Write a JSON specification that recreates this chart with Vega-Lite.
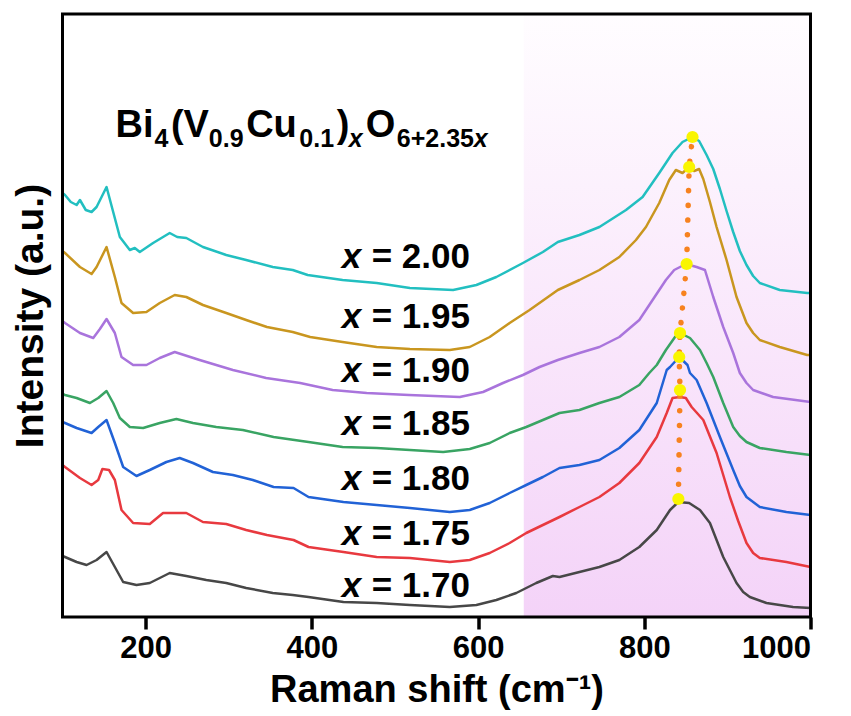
{
  "$schema": "https://vega.github.io/schema/vega-lite/v6.json",
  "width": 748,
  "height": 603,
  "autosize": {"type": "none"},
  "padding": {"left": 62.5, "top": 14, "right": 40.5, "bottom": 99},
  "background": "white",
  "config": {
    "view": {"stroke": null},
    "font": "Liberation Sans",
    "text": {"font": "Liberation Sans", "fontWeight": "bold", "color": "black"}
  },
  "datasets": {
    "spectra": [
      {"sample":"2.00","shift":100,"intensity":424},{"sample":"2.00","shift":103,"intensity":422},{"sample":"2.00","shift":110,"intensity":415},{"sample":"2.00","shift":117,"intensity":412},{"sample":"2.00","shift":121,"intensity":417},{"sample":"2.00","shift":128,"intensity":407},{"sample":"2.00","shift":135,"intensity":405},{"sample":"2.00","shift":141,"intensity":410},{"sample":"2.00","shift":153,"intensity":430},{"sample":"2.00","shift":169,"intensity":380},{"sample":"2.00","shift":181,"intensity":367},{"sample":"2.00","shift":187,"intensity":369},{"sample":"2.00","shift":193,"intensity":365},{"sample":"2.00","shift":209,"intensity":374},{"sample":"2.00","shift":229,"intensity":384},{"sample":"2.00","shift":238,"intensity":380},{"sample":"2.00","shift":249,"intensity":379},{"sample":"2.00","shift":269,"intensity":370},{"sample":"2.00","shift":297,"intensity":362},{"sample":"2.00","shift":321,"intensity":357},{"sample":"2.00","shift":353,"intensity":350},{"sample":"2.00","shift":377,"intensity":347},{"sample":"2.00","shift":395,"intensity":342},{"sample":"2.00","shift":437,"intensity":337},{"sample":"2.00","shift":478,"intensity":334},{"sample":"2.00","shift":518,"intensity":329},{"sample":"2.00","shift":570,"intensity":327},{"sample":"2.00","shift":598,"intensity":332},{"sample":"2.00","shift":622,"intensity":340},{"sample":"2.00","shift":654,"intensity":354},{"sample":"2.00","shift":678,"intensity":365},{"sample":"2.00","shift":696,"intensity":375},{"sample":"2.00","shift":722,"intensity":382},{"sample":"2.00","shift":746,"intensity":390},{"sample":"2.00","shift":778,"intensity":407},{"sample":"2.00","shift":798,"intensity":420},{"sample":"2.00","shift":818,"intensity":444},{"sample":"2.00","shift":834,"intensity":464},{"sample":"2.00","shift":846,"intensity":475},{"sample":"2.00","shift":858,"intensity":480},{"sample":"2.00","shift":866,"intensity":476},{"sample":"2.00","shift":875,"intensity":462},{"sample":"2.00","shift":883,"intensity":448},{"sample":"2.00","shift":891,"intensity":428},{"sample":"2.00","shift":899,"intensity":406},{"sample":"2.00","shift":907,"intensity":385},{"sample":"2.00","shift":915,"intensity":366},{"sample":"2.00","shift":923,"intensity":352},{"sample":"2.00","shift":931,"intensity":341},{"sample":"2.00","shift":939,"intensity":334},{"sample":"2.00","shift":963,"intensity":327},{"sample":"2.00","shift":996,"intensity":324},{"sample":"2.00","shift":1000,"intensity":324},
      {"sample":"1.95","shift":100,"intensity":366},{"sample":"1.95","shift":103,"intensity":364},{"sample":"1.95","shift":121,"intensity":350},{"sample":"1.95","shift":135,"intensity":343},{"sample":"1.95","shift":141,"intensity":350},{"sample":"1.95","shift":153,"intensity":370},{"sample":"1.95","shift":163,"intensity":340},{"sample":"1.95","shift":171,"intensity":314},{"sample":"1.95","shift":185,"intensity":304},{"sample":"1.95","shift":201,"intensity":305},{"sample":"1.95","shift":217,"intensity":314},{"sample":"1.95","shift":235,"intensity":322},{"sample":"1.95","shift":249,"intensity":320},{"sample":"1.95","shift":269,"intensity":312},{"sample":"1.95","shift":297,"intensity":304},{"sample":"1.95","shift":321,"intensity":297},{"sample":"1.95","shift":346,"intensity":290},{"sample":"1.95","shift":377,"intensity":285},{"sample":"1.95","shift":398,"intensity":280},{"sample":"1.95","shift":437,"intensity":275},{"sample":"1.95","shift":478,"intensity":270},{"sample":"1.95","shift":518,"intensity":268},{"sample":"1.95","shift":566,"intensity":267},{"sample":"1.95","shift":590,"intensity":270},{"sample":"1.95","shift":614,"intensity":280},{"sample":"1.95","shift":638,"intensity":294},{"sample":"1.95","shift":662,"intensity":307},{"sample":"1.95","shift":696,"intensity":327},{"sample":"1.95","shift":722,"intensity":337},{"sample":"1.95","shift":746,"intensity":347},{"sample":"1.95","shift":770,"intensity":360},{"sample":"1.95","shift":790,"intensity":377},{"sample":"1.95","shift":802,"intensity":390},{"sample":"1.95","shift":818,"intensity":414},{"sample":"1.95","shift":830,"intensity":437},{"sample":"1.95","shift":838,"intensity":447},{"sample":"1.95","shift":846,"intensity":444},{"sample":"1.95","shift":854,"intensity":450},{"sample":"1.95","shift":860,"intensity":446},{"sample":"1.95","shift":866,"intensity":448},{"sample":"1.95","shift":871,"intensity":438},{"sample":"1.95","shift":879,"intensity":415},{"sample":"1.95","shift":887,"intensity":390},{"sample":"1.95","shift":899,"intensity":357},{"sample":"1.95","shift":911,"intensity":320},{"sample":"1.95","shift":923,"intensity":294},{"sample":"1.95","shift":931,"intensity":284},{"sample":"1.95","shift":939,"intensity":277},{"sample":"1.95","shift":963,"intensity":270},{"sample":"1.95","shift":996,"intensity":262},{"sample":"1.95","shift":1000,"intensity":262},
      {"sample":"1.90","shift":100,"intensity":296},{"sample":"1.90","shift":103,"intensity":294},{"sample":"1.90","shift":121,"intensity":284},{"sample":"1.90","shift":137,"intensity":279},{"sample":"1.90","shift":145,"intensity":288},{"sample":"1.90","shift":153,"intensity":298},{"sample":"1.90","shift":163,"intensity":284},{"sample":"1.90","shift":171,"intensity":260},{"sample":"1.90","shift":185,"intensity":252},{"sample":"1.90","shift":201,"intensity":252},{"sample":"1.90","shift":217,"intensity":259},{"sample":"1.90","shift":235,"intensity":265},{"sample":"1.90","shift":265,"intensity":257},{"sample":"1.90","shift":305,"intensity":247},{"sample":"1.90","shift":345,"intensity":239},{"sample":"1.90","shift":386,"intensity":234},{"sample":"1.90","shift":425,"intensity":227},{"sample":"1.90","shift":466,"intensity":224},{"sample":"1.90","shift":517,"intensity":222},{"sample":"1.90","shift":578,"intensity":220},{"sample":"1.90","shift":606,"intensity":225},{"sample":"1.90","shift":630,"intensity":234},{"sample":"1.90","shift":654,"intensity":242},{"sample":"1.90","shift":674,"intensity":250},{"sample":"1.90","shift":696,"intensity":257},{"sample":"1.90","shift":722,"intensity":264},{"sample":"1.90","shift":746,"intensity":270},{"sample":"1.90","shift":770,"intensity":280},{"sample":"1.90","shift":794,"intensity":297},{"sample":"1.90","shift":810,"intensity":317},{"sample":"1.90","shift":826,"intensity":337},{"sample":"1.90","shift":836,"intensity":347},{"sample":"1.90","shift":850,"intensity":353},{"sample":"1.90","shift":863,"intensity":350},{"sample":"1.90","shift":873,"intensity":347},{"sample":"1.90","shift":883,"intensity":320},{"sample":"1.90","shift":895,"intensity":290},{"sample":"1.90","shift":907,"intensity":264},{"sample":"1.90","shift":915,"intensity":244},{"sample":"1.90","shift":923,"intensity":234},{"sample":"1.90","shift":931,"intensity":227},{"sample":"1.90","shift":955,"intensity":220},{"sample":"1.90","shift":1000,"intensity":215},
      {"sample":"1.85","shift":100,"intensity":223},{"sample":"1.85","shift":103,"intensity":222},{"sample":"1.85","shift":117,"intensity":219},{"sample":"1.85","shift":133,"intensity":214},{"sample":"1.85","shift":143,"intensity":219},{"sample":"1.85","shift":153,"intensity":226},{"sample":"1.85","shift":161,"intensity":214},{"sample":"1.85","shift":169,"intensity":199},{"sample":"1.85","shift":181,"intensity":190},{"sample":"1.85","shift":197,"intensity":189},{"sample":"1.85","shift":217,"intensity":194},{"sample":"1.85","shift":237,"intensity":198},{"sample":"1.85","shift":257,"intensity":194},{"sample":"1.85","shift":285,"intensity":190},{"sample":"1.85","shift":317,"intensity":187},{"sample":"1.85","shift":354,"intensity":180},{"sample":"1.85","shift":396,"intensity":175},{"sample":"1.85","shift":437,"intensity":170},{"sample":"1.85","shift":478,"intensity":169},{"sample":"1.85","shift":518,"intensity":167},{"sample":"1.85","shift":558,"intensity":165},{"sample":"1.85","shift":590,"intensity":168},{"sample":"1.85","shift":614,"intensity":174},{"sample":"1.85","shift":638,"intensity":184},{"sample":"1.85","shift":658,"intensity":190},{"sample":"1.85","shift":678,"intensity":197},{"sample":"1.85","shift":698,"intensity":204},{"sample":"1.85","shift":722,"intensity":207},{"sample":"1.85","shift":746,"intensity":214},{"sample":"1.85","shift":770,"intensity":220},{"sample":"1.85","shift":794,"intensity":232},{"sample":"1.85","shift":806,"intensity":244},{"sample":"1.85","shift":815,"intensity":252},{"sample":"1.85","shift":826,"intensity":267},{"sample":"1.85","shift":837,"intensity":280},{"sample":"1.85","shift":843,"intensity":284},{"sample":"1.85","shift":855,"intensity":279},{"sample":"1.85","shift":867,"intensity":267},{"sample":"1.85","shift":875,"intensity":254},{"sample":"1.85","shift":883,"intensity":240},{"sample":"1.85","shift":895,"intensity":214},{"sample":"1.85","shift":907,"intensity":190},{"sample":"1.85","shift":915,"intensity":181},{"sample":"1.85","shift":923,"intensity":175},{"sample":"1.85","shift":939,"intensity":169},{"sample":"1.85","shift":971,"intensity":165},{"sample":"1.85","shift":1000,"intensity":162},
      {"sample":"1.80","shift":100,"intensity":195},{"sample":"1.80","shift":103,"intensity":194},{"sample":"1.80","shift":117,"intensity":189},{"sample":"1.80","shift":135,"intensity":184},{"sample":"1.80","shift":143,"intensity":190},{"sample":"1.80","shift":153,"intensity":197},{"sample":"1.80","shift":163,"intensity":174},{"sample":"1.80","shift":173,"intensity":150},{"sample":"1.80","shift":189,"intensity":141},{"sample":"1.80","shift":205,"intensity":147},{"sample":"1.80","shift":225,"intensity":155},{"sample":"1.80","shift":241,"intensity":159},{"sample":"1.80","shift":257,"intensity":154},{"sample":"1.80","shift":281,"intensity":145},{"sample":"1.80","shift":305,"intensity":142},{"sample":"1.80","shift":329,"intensity":137},{"sample":"1.80","shift":354,"intensity":130},{"sample":"1.80","shift":378,"intensity":129},{"sample":"1.80","shift":396,"intensity":120},{"sample":"1.80","shift":438,"intensity":115},{"sample":"1.80","shift":478,"intensity":112},{"sample":"1.80","shift":518,"intensity":109},{"sample":"1.80","shift":566,"intensity":105},{"sample":"1.80","shift":590,"intensity":107},{"sample":"1.80","shift":614,"intensity":114},{"sample":"1.80","shift":638,"intensity":124},{"sample":"1.80","shift":658,"intensity":132},{"sample":"1.80","shift":678,"intensity":140},{"sample":"1.80","shift":698,"intensity":149},{"sample":"1.80","shift":722,"intensity":152},{"sample":"1.80","shift":746,"intensity":157},{"sample":"1.80","shift":770,"intensity":169},{"sample":"1.80","shift":794,"intensity":187},{"sample":"1.80","shift":815,"intensity":214},{"sample":"1.80","shift":827,"intensity":247},{"sample":"1.80","shift":831,"intensity":250},{"sample":"1.80","shift":842,"intensity":260},{"sample":"1.80","shift":852,"intensity":252},{"sample":"1.80","shift":855,"intensity":244},{"sample":"1.80","shift":863,"intensity":237},{"sample":"1.80","shift":875,"intensity":214},{"sample":"1.80","shift":891,"intensity":180},{"sample":"1.80","shift":907,"intensity":147},{"sample":"1.80","shift":915,"intensity":131},{"sample":"1.80","shift":923,"intensity":120},{"sample":"1.80","shift":939,"intensity":110},{"sample":"1.80","shift":971,"intensity":105},{"sample":"1.80","shift":1000,"intensity":102},
      {"sample":"1.75","shift":100,"intensity":152},{"sample":"1.75","shift":103,"intensity":150},{"sample":"1.75","shift":121,"intensity":139},{"sample":"1.75","shift":135,"intensity":132},{"sample":"1.75","shift":143,"intensity":137},{"sample":"1.75","shift":148,"intensity":148},{"sample":"1.75","shift":156,"intensity":147},{"sample":"1.75","shift":163,"intensity":137},{"sample":"1.75","shift":171,"intensity":107},{"sample":"1.75","shift":185,"intensity":94},{"sample":"1.75","shift":205,"intensity":93},{"sample":"1.75","shift":221,"intensity":104},{"sample":"1.75","shift":237,"intensity":104},{"sample":"1.75","shift":249,"intensity":104},{"sample":"1.75","shift":269,"intensity":95},{"sample":"1.75","shift":297,"intensity":93},{"sample":"1.75","shift":321,"intensity":87},{"sample":"1.75","shift":346,"intensity":82},{"sample":"1.75","shift":378,"intensity":77},{"sample":"1.75","shift":396,"intensity":70},{"sample":"1.75","shift":438,"intensity":65},{"sample":"1.75","shift":478,"intensity":60},{"sample":"1.75","shift":518,"intensity":59},{"sample":"1.75","shift":566,"intensity":55},{"sample":"1.75","shift":590,"intensity":57},{"sample":"1.75","shift":614,"intensity":64},{"sample":"1.75","shift":638,"intensity":74},{"sample":"1.75","shift":658,"intensity":84},{"sample":"1.75","shift":678,"intensity":92},{"sample":"1.75","shift":698,"intensity":100},{"sample":"1.75","shift":722,"intensity":110},{"sample":"1.75","shift":746,"intensity":120},{"sample":"1.75","shift":770,"intensity":134},{"sample":"1.75","shift":794,"intensity":154},{"sample":"1.75","shift":815,"intensity":180},{"sample":"1.75","shift":827,"intensity":204},{"sample":"1.75","shift":834,"intensity":219},{"sample":"1.75","shift":843,"intensity":220},{"sample":"1.75","shift":850,"intensity":219},{"sample":"1.75","shift":857,"intensity":210},{"sample":"1.75","shift":871,"intensity":197},{"sample":"1.75","shift":887,"intensity":164},{"sample":"1.75","shift":903,"intensity":120},{"sample":"1.75","shift":913,"intensity":96},{"sample":"1.75","shift":923,"intensity":74},{"sample":"1.75","shift":931,"intensity":64},{"sample":"1.75","shift":939,"intensity":59},{"sample":"1.75","shift":971,"intensity":55},{"sample":"1.75","shift":1000,"intensity":50},
      {"sample":"1.70","shift":100,"intensity":61},{"sample":"1.70","shift":103,"intensity":60},{"sample":"1.70","shift":117,"intensity":55},{"sample":"1.70","shift":129,"intensity":52},{"sample":"1.70","shift":141,"intensity":57},{"sample":"1.70","shift":153,"intensity":65},{"sample":"1.70","shift":163,"intensity":50},{"sample":"1.70","shift":173,"intensity":35},{"sample":"1.70","shift":189,"intensity":32},{"sample":"1.70","shift":205,"intensity":34},{"sample":"1.70","shift":217,"intensity":39},{"sample":"1.70","shift":229,"intensity":44},{"sample":"1.70","shift":249,"intensity":41},{"sample":"1.70","shift":273,"intensity":37},{"sample":"1.70","shift":297,"intensity":34},{"sample":"1.70","shift":321,"intensity":29},{"sample":"1.70","shift":353,"intensity":24},{"sample":"1.70","shift":377,"intensity":22},{"sample":"1.70","shift":396,"intensity":20},{"sample":"1.70","shift":438,"intensity":15},{"sample":"1.70","shift":478,"intensity":14},{"sample":"1.70","shift":518,"intensity":12},{"sample":"1.70","shift":566,"intensity":10},{"sample":"1.70","shift":598,"intensity":12},{"sample":"1.70","shift":622,"intensity":17},{"sample":"1.70","shift":646,"intensity":24},{"sample":"1.70","shift":670,"intensity":34},{"sample":"1.70","shift":690,"intensity":41},{"sample":"1.70","shift":698,"intensity":40},{"sample":"1.70","shift":722,"intensity":45},{"sample":"1.70","shift":746,"intensity":50},{"sample":"1.70","shift":770,"intensity":57},{"sample":"1.70","shift":794,"intensity":70},{"sample":"1.70","shift":815,"intensity":87},{"sample":"1.70","shift":831,"intensity":107},{"sample":"1.70","shift":841,"intensity":115},{"sample":"1.70","shift":854,"intensity":114},{"sample":"1.70","shift":867,"intensity":107},{"sample":"1.70","shift":879,"intensity":94},{"sample":"1.70","shift":895,"intensity":60},{"sample":"1.70","shift":911,"intensity":34},{"sample":"1.70","shift":919,"intensity":25},{"sample":"1.70","shift":927,"intensity":20},{"sample":"1.70","shift":947,"intensity":14},{"sample":"1.70","shift":979,"intensity":10},{"sample":"1.70","shift":1000,"intensity":9}
    ],
    "peaks": [
      {"sample":"2.00","shift":858,"intensity":480},
      {"sample":"1.95","shift":854,"intensity":450},
      {"sample":"1.90","shift":851,"intensity":353},
      {"sample":"1.85","shift":843,"intensity":284},
      {"sample":"1.80","shift":842,"intensity":260},
      {"sample":"1.75","shift":843,"intensity":227},
      {"sample":"1.70","shift":841,"intensity":118}
    ],
    "labels": [
      {"variable":"x","value":"= 2.00","intensity":349},
      {"variable":"x","value":"= 1.95","intensity":289},
      {"variable":"x","value":"= 1.90","intensity":235},
      {"variable":"x","value":"= 1.85","intensity":182},
      {"variable":"x","value":"= 1.80","intensity":127},
      {"variable":"x","value":"= 1.75","intensity":72},
      {"variable":"x","value":"= 1.70","intensity":20}
    ]
  },
  "layer": [
    {
      "data": {"values": [{"region": "shaded"}]},
      "mark": {"type": "rect", "color": {"gradient": "linear", "x1": 0, "y1": 0, "x2": 0, "y2": 1, "stops": [{"offset": 0, "color": "#fffdff"}, {"offset": 1, "color": "#f4d3f8"}]}},
      "encoding": {
        "x": {"datum": 655, "type": "quantitative", "scale": {"domain": [100, 1000], "nice": false, "zero": false},
          "axis": {"title": "Raman shift (cm⁻¹)", "values": [200, 400, 600, 800, 1000], "format": "d", "grid": false, "domain": false,
            "ticks": true, "tickSize": 12, "tickWidth": 3.5, "tickColor": "black",
            "labelFont": "Liberation Sans", "labelFontSize": 31, "labelFontWeight": "bold", "labelColor": "black", "labelPadding": 4,
            "titleFont": "Liberation Sans", "titleFontSize": 38, "titleFontWeight": "bold", "titleColor": "black", "titlePadding": 8}},
        "x2": {"datum": 1000},
        "y": {"datum": 0, "type": "quantitative", "scale": {"domain": [0, 603], "nice": false, "zero": false},
          "axis": {"title": "Intensity (a.u.)", "labels": false, "ticks": false, "domain": false, "grid": false,
            "titleFont": "Liberation Sans", "titleFontSize": 39, "titleFontWeight": "bold", "titleColor": "black", "titlePadding": 12}},
        "y2": {"datum": 603}
      }
    },
    {
      "data": {"name": "spectra"},
      "mark": {"type": "line", "strokeWidth": 2.5, "strokeJoin": "round"},
      "encoding": {
        "x": {"field": "shift", "type": "quantitative"},
        "y": {"field": "intensity", "type": "quantitative"},
        "color": {"field": "sample", "type": "nominal", "legend": null,
          "scale": {"domain": ["2.00", "1.95", "1.90", "1.85", "1.80", "1.75", "1.70"],
                    "range": ["#22bfc0", "#c9961f", "#a974dc", "#39a463", "#2162d6", "#e8393f", "#474747"]}}
      }
    },
    {
      "data": {"name": "peaks"},
      "mark": {"type": "line", "color": "#f7821f", "strokeWidth": 5.5, "strokeCap": "round", "strokeDash": [0.1, 14.6]},
      "encoding": {
        "x": {"field": "shift", "type": "quantitative"},
        "y": {"field": "intensity", "type": "quantitative"},
        "order": {"field": "intensity", "type": "quantitative"}
      }
    },
    {
      "data": {"name": "peaks"},
      "mark": {"type": "point", "shape": "circle", "filled": true, "size": 150, "color": "#f9f500", "opacity": 1},
      "encoding": {
        "x": {"field": "shift", "type": "quantitative"},
        "y": {"field": "intensity", "type": "quantitative"}
      }
    },
    {
      "data": {"name": "labels"},
      "mark": {"type": "text", "fontSize": 35, "fontStyle": "italic", "align": "left", "baseline": "alphabetic"},
      "encoding": {
        "x": {"datum": 436, "type": "quantitative"},
        "y": {"field": "intensity", "type": "quantitative"},
        "text": {"field": "variable"}
      }
    },
    {
      "data": {"name": "labels"},
      "mark": {"type": "text", "fontSize": 35, "align": "left", "baseline": "alphabetic"},
      "encoding": {
        "x": {"datum": 472, "type": "quantitative"},
        "y": {"field": "intensity", "type": "quantitative"},
        "text": {"field": "value"}
      }
    },
    {"data": {"values": [{"piece": "Bi"}]}, "mark": {"type": "text", "fontSize": 38, "align": "left", "baseline": "alphabetic"},
     "encoding": {"x": {"datum": 163.7, "type": "quantitative"}, "y": {"datum": 480, "type": "quantitative"}, "text": {"field": "piece"}}},
    {"data": {"values": [{"piece": "4"}]}, "mark": {"type": "text", "fontSize": 25, "align": "left", "baseline": "alphabetic"},
     "encoding": {"x": {"datum": 210.6, "type": "quantitative"}, "y": {"datum": 470, "type": "quantitative"}, "text": {"field": "piece"}}},
    {"data": {"values": [{"piece": "(V"}]}, "mark": {"type": "text", "fontSize": 38, "align": "left", "baseline": "alphabetic"},
     "encoding": {"x": {"datum": 230.5, "type": "quantitative"}, "y": {"datum": 480, "type": "quantitative"}, "text": {"field": "piece"}}},
    {"data": {"values": [{"piece": "0.9"}]}, "mark": {"type": "text", "fontSize": 25, "align": "left", "baseline": "alphabetic"},
     "encoding": {"x": {"datum": 276, "type": "quantitative"}, "y": {"datum": 470, "type": "quantitative"}, "text": {"field": "piece"}}},
    {"data": {"values": [{"piece": "Cu"}]}, "mark": {"type": "text", "fontSize": 38, "align": "left", "baseline": "alphabetic"},
     "encoding": {"x": {"datum": 321, "type": "quantitative"}, "y": {"datum": 480, "type": "quantitative"}, "text": {"field": "piece"}}},
    {"data": {"values": [{"piece": "0.1"}]}, "mark": {"type": "text", "fontSize": 25, "align": "left", "baseline": "alphabetic"},
     "encoding": {"x": {"datum": 385, "type": "quantitative"}, "y": {"datum": 470, "type": "quantitative"}, "text": {"field": "piece"}}},
    {"data": {"values": [{"piece": ")"}]}, "mark": {"type": "text", "fontSize": 38, "align": "left", "baseline": "alphabetic"},
     "encoding": {"x": {"datum": 430, "type": "quantitative"}, "y": {"datum": 480, "type": "quantitative"}, "text": {"field": "piece"}}},
    {"data": {"values": [{"piece": "x"}]}, "mark": {"type": "text", "fontSize": 25, "fontStyle": "italic", "align": "left", "baseline": "alphabetic"},
     "encoding": {"x": {"datum": 444.5, "type": "quantitative"}, "y": {"datum": 470, "type": "quantitative"}, "text": {"field": "piece"}}},
    {"data": {"values": [{"piece": "O"}]}, "mark": {"type": "text", "fontSize": 38, "align": "left", "baseline": "alphabetic"},
     "encoding": {"x": {"datum": 464.9, "type": "quantitative"}, "y": {"datum": 480, "type": "quantitative"}, "text": {"field": "piece"}}},
    {"data": {"values": [{"piece": "6+2.35"}]}, "mark": {"type": "text", "fontSize": 25, "align": "left", "baseline": "alphabetic"},
     "encoding": {"x": {"datum": 502.2, "type": "quantitative"}, "y": {"datum": 470, "type": "quantitative"}, "text": {"field": "piece"}}},
    {"data": {"values": [{"piece": "x"}]}, "mark": {"type": "text", "fontSize": 25, "fontStyle": "italic", "align": "left", "baseline": "alphabetic"},
     "encoding": {"x": {"datum": 594.8, "type": "quantitative"}, "y": {"datum": 470, "type": "quantitative"}, "text": {"field": "piece"}}},
    {"data": {"values": [{"frame": "plot border"}]}, "mark": {"type": "rect", "fill": null, "fillOpacity": 0, "stroke": "black", "strokeWidth": 3},
     "encoding": {"x": {"datum": 100, "type": "quantitative"}, "x2": {"datum": 1000}, "y": {"datum": 0, "type": "quantitative"}, "y2": {"datum": 603}}}
  ]
}
